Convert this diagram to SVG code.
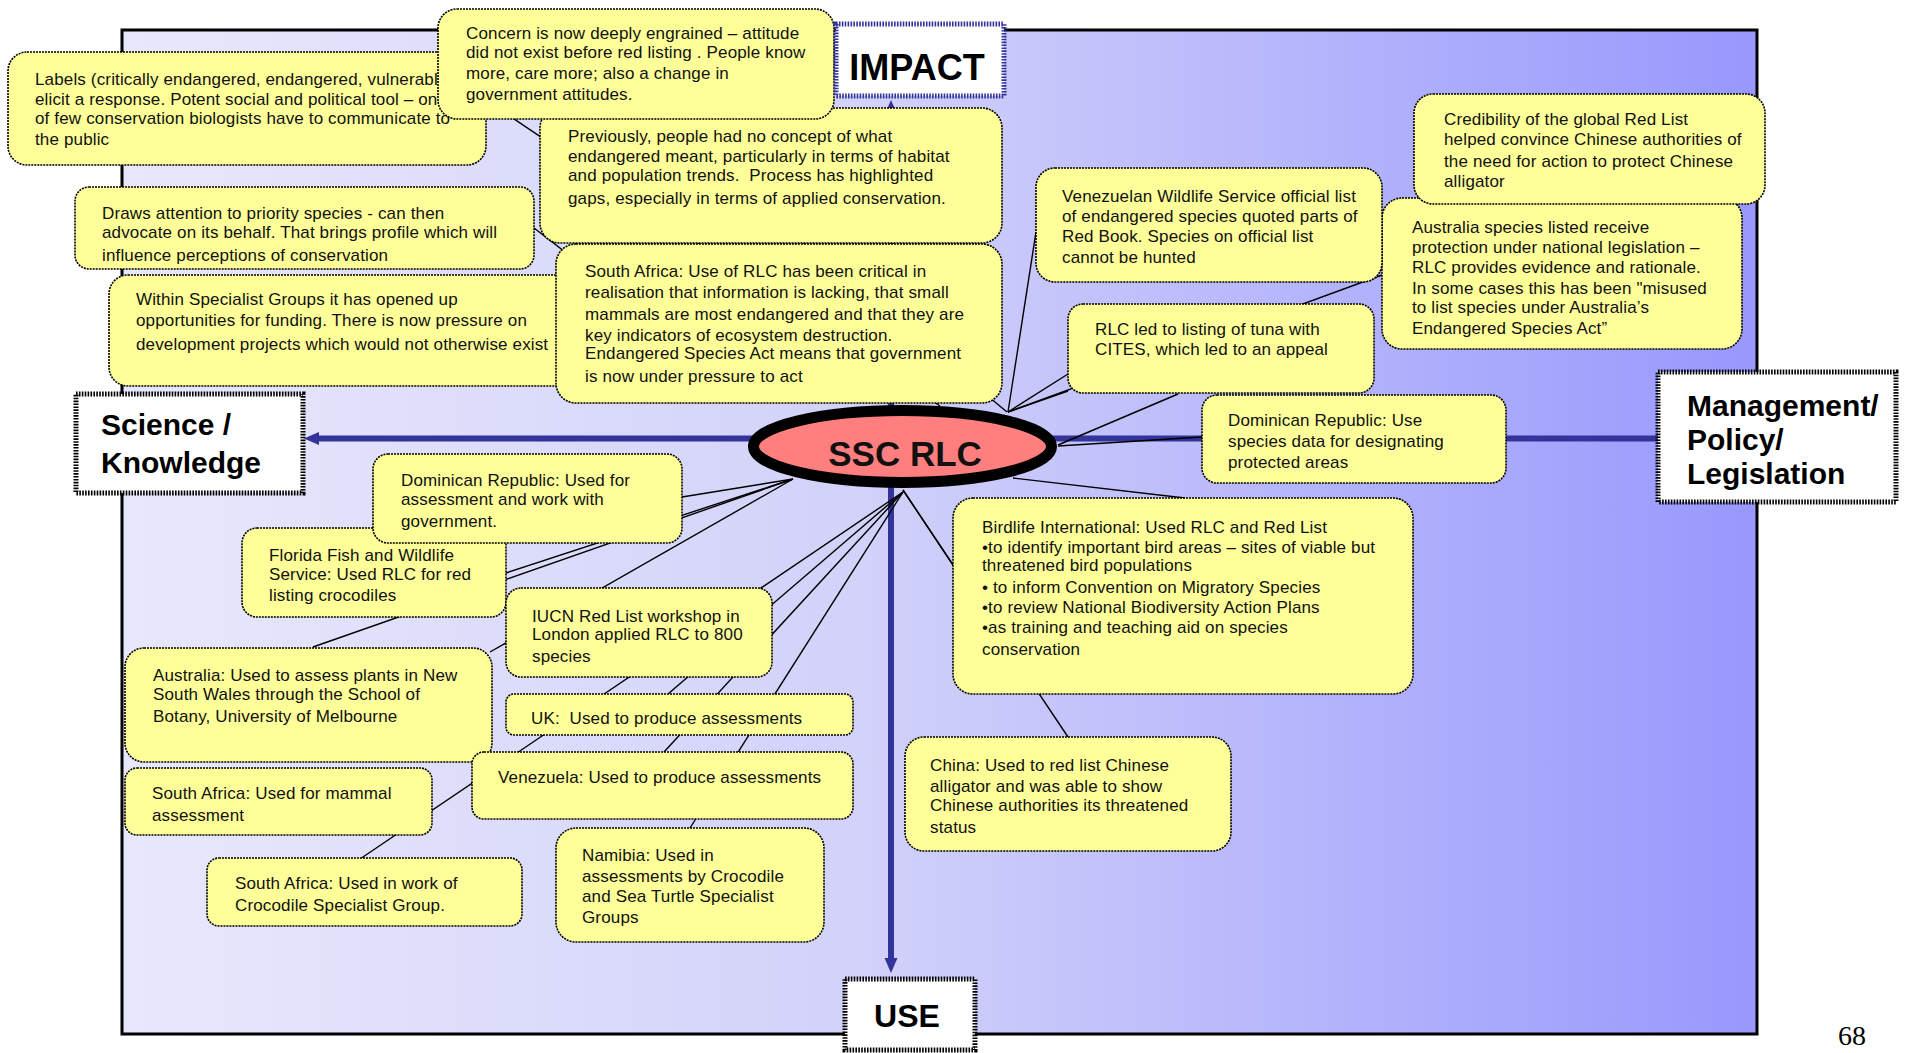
<svg xmlns="http://www.w3.org/2000/svg" width="1907" height="1053" viewBox="0 0 1907 1053">
<style>
.node rect{fill:#ffff99;stroke:#000;stroke-width:1.6;stroke-dasharray:2 1}
.node text{font-family:"Liberation Sans",Arial,sans-serif;font-size:17px;fill:#111;letter-spacing:0.15px}
.lbl rect{fill:#fff;stroke:#000;stroke-width:5;stroke-dasharray:1.6 1.3}
.lbl text{font-family:"Liberation Sans",Arial,sans-serif;font-weight:bold;fill:#000}
#connectors line{stroke:#000;stroke-width:1.4}
.axis{stroke:#333399;stroke-width:6;fill:none}
</style>
<defs>
<linearGradient id="bg" x1="0" y1="0" x2="1" y2="0">
<stop offset="0" stop-color="#e8e8fc"/>
<stop offset="0.45" stop-color="#d2d2fa"/>
<stop offset="1" stop-color="#9898fd"/>
</linearGradient>
<marker id="ah" markerUnits="userSpaceOnUse" markerWidth="16" markerHeight="16" viewBox="0 0 16 16" refX="7" refY="8" orient="auto-start-reverse">
<path d="M0,1.5 L15,8 L0,14.5 z" fill="#333399"/>
</marker>
<clipPath id="clipDraws"><rect x="75" y="187" width="459" height="82"/></clipPath>
</defs>

<rect x="122" y="30" width="1635" height="1004" fill="url(#bg)" stroke="#000" stroke-width="3"/>

<g id="axes">
<path class="axis" d="M312,438.5 H1658" marker-start="url(#ah)"/>
<path class="axis" d="M891,108 V965" marker-start="url(#ah)" marker-end="url(#ah)"/>
</g>

<g id="connectors">
<line x1="1008" y1="412" x2="1036" y2="232"/>
<line x1="1008" y1="412" x2="1068" y2="374"/>
<line x1="1008" y1="412" x2="1068" y2="391"/>
<line x1="1058" y1="445" x2="1178" y2="394"/>
<line x1="1058" y1="446" x2="1202" y2="437"/>
<line x1="1008" y1="412" x2="1382" y2="275"/>
<line x1="1013" y1="478" x2="1185" y2="498"/>
<line x1="903" y1="490" x2="953" y2="565"/>
<line x1="903" y1="490" x2="1068" y2="737"/>
<line x1="1007" y1="412" x2="800" y2="240"/>
<line x1="940" y1="406" x2="486" y2="100"/>
<line x1="700" y1="356" x2="534" y2="228"/>
<line x1="793" y1="479" x2="682" y2="497"/>
<line x1="793" y1="479" x2="506" y2="573"/>
<line x1="793" y1="479" x2="313" y2="647"/>
<line x1="793" y1="479" x2="490" y2="652"/>
<line x1="903" y1="492" x2="360" y2="859"/>
<line x1="903" y1="492" x2="668" y2="694"/>
<line x1="903" y1="492" x2="664" y2="752"/>
<line x1="903" y1="492" x2="690" y2="828"/>
</g>

<g id="n-ssc">
<ellipse cx="902.5" cy="446.5" rx="149" ry="36" fill="#ff7f7f" stroke="#000" stroke-width="11"/>
<text x="905" y="466" text-anchor="middle" font-family="Liberation Sans, Arial, sans-serif" font-weight="bold" font-size="35" fill="#111">SSC RLC</text>
</g>

<g id="n-labels" class="node"><rect x="8" y="52" width="478" height="113" rx="19"/>
<text><tspan x="35" y="85">Labels (critically endangered, endangered, vulnerable)</tspan><tspan x="35" y="105">elicit a response. Potent social and political tool – one</tspan><tspan x="35" y="124">of few conservation biologists have to communicate to</tspan><tspan x="35" y="145">the public</tspan></text></g>

<g id="n-previously" class="node"><rect x="540" y="108" width="462" height="135" rx="20"/>
<text><tspan x="568" y="142">Previously, people had no concept of what</tspan><tspan x="568" y="162">endangered meant, particularly in terms of habitat</tspan><tspan x="568" y="181" xml:space="preserve">and population trends.  Process has highlighted</tspan><tspan x="568" y="204">gaps, especially in terms of applied conservation.</tspan></text></g>

<g id="n-concern" class="node"><rect x="438" y="9" width="396" height="110" rx="19"/>
<text><tspan x="466" y="39">Concern is now deeply engrained – attitude</tspan><tspan x="466" y="58">did not exist before red listing . People know</tspan><tspan x="466" y="79">more, care more; also a change in</tspan><tspan x="466" y="100">government attitudes.</tspan></text></g>

<g id="n-draws" class="node"><rect x="75" y="187" width="459" height="82" rx="14"/>
<text clip-path="url(#clipDraws)"><tspan x="102" y="219">Draws attention to priority species - can then</tspan><tspan x="102" y="238">advocate on its behalf. That brings profile which will</tspan><tspan x="102" y="261">influence perceptions of conservation</tspan></text></g>

<g id="n-within" class="node"><rect x="109" y="275" width="491" height="111" rx="19"/>
<text><tspan x="136" y="305">Within Specialist Groups it has opened up</tspan><tspan x="136" y="326">opportunities for funding. There is now pressure on</tspan><tspan x="136" y="350">development projects which would not otherwise exist</tspan></text></g>

<g id="n-southafrica" class="node"><rect x="556" y="244" width="446" height="159" rx="20"/>
<text><tspan x="585" y="277">South Africa: Use of RLC has been critical in</tspan><tspan x="585" y="298">realisation that information is lacking, that small</tspan><tspan x="585" y="320">mammals are most endangered and that they are</tspan><tspan x="585" y="341">key indicators of ecosystem destruction.</tspan><tspan x="585" y="359">Endangered Species Act means that government</tspan><tspan x="585" y="382">is now under pressure to act</tspan></text></g>

<g id="n-australia-species" class="node"><rect x="1382" y="198" width="360" height="151" rx="20"/>
<text><tspan x="1412" y="233">Australia species listed receive</tspan><tspan x="1412" y="253">protection under national legislation –</tspan><tspan x="1412" y="273">RLC provides evidence and rationale.</tspan><tspan x="1412" y="294">In some cases this has been "misused</tspan><tspan x="1412" y="313">to list species under Australia’s</tspan><tspan x="1412" y="334">Endangered Species Act”</tspan></text></g>

<g id="n-credibility" class="node"><rect x="1414" y="94" width="351" height="110" rx="19"/>
<text><tspan x="1444" y="125">Credibility of the global Red List</tspan><tspan x="1444" y="145">helped convince Chinese authorities of</tspan><tspan x="1444" y="167">the need for action to protect Chinese</tspan><tspan x="1444" y="187">alligator</tspan></text></g>

<g id="n-venezuelan-wildlife" class="node"><rect x="1036" y="168" width="346" height="114" rx="19"/>
<text><tspan x="1062" y="202">Venezuelan Wildlife Service official list</tspan><tspan x="1062" y="222">of endangered species quoted parts of</tspan><tspan x="1062" y="242">Red Book. Species on official list</tspan><tspan x="1062" y="263">cannot be hunted</tspan></text></g>

<g id="n-tuna" class="node"><rect x="1068" y="304" width="306" height="89" rx="15"/>
<text><tspan x="1095" y="335">RLC led to listing of tuna with</tspan><tspan x="1095" y="355">CITES, which led to an appeal</tspan></text></g>

<g id="n-dr-use" class="node"><rect x="1202" y="395" width="304" height="88" rx="15"/>
<text><tspan x="1228" y="426">Dominican Republic: Use</tspan><tspan x="1228" y="447">species data for designating</tspan><tspan x="1228" y="468">protected areas</tspan></text></g>

<g id="n-birdlife" class="node"><rect x="953" y="498" width="460" height="196" rx="20"/>
<text><tspan x="982" y="533">Birdlife International: Used RLC and Red List</tspan><tspan x="982" y="553">•to identify important bird areas – sites of viable but</tspan><tspan x="982" y="571">threatened bird populations</tspan><tspan x="982" y="593">• to inform Convention on Migratory Species</tspan><tspan x="982" y="613">•to review National Biodiversity Action Plans</tspan><tspan x="982" y="633">•as training and teaching aid on species</tspan><tspan x="982" y="655">conservation</tspan></text></g>

<g id="n-china" class="node"><rect x="905" y="737" width="326" height="114" rx="19"/>
<text><tspan x="930" y="771">China: Used to red list Chinese</tspan><tspan x="930" y="792">alligator and was able to show</tspan><tspan x="930" y="811">Chinese authorities its threatened</tspan><tspan x="930" y="833">status</tspan></text></g>

<g id="n-florida" class="node"><rect x="242" y="528" width="264" height="89" rx="15"/>
<text><tspan x="269" y="561">Florida Fish and Wildlife</tspan><tspan x="269" y="580">Service: Used RLC for red</tspan><tspan x="269" y="601">listing crocodiles</tspan></text></g>

<g id="n-dr-assessment" class="node"><rect x="373" y="454" width="309" height="89" rx="15"/>
<text><tspan x="401" y="486">Dominican Republic: Used for</tspan><tspan x="401" y="505">assessment and work with</tspan><tspan x="401" y="527">government.</tspan></text></g>

<g id="n-iucn" class="node"><rect x="506" y="588" width="266" height="89" rx="15"/>
<text><tspan x="532" y="622">IUCN Red List workshop in</tspan><tspan x="532" y="640">London applied RLC to 800</tspan><tspan x="532" y="662">species</tspan></text></g>

<g id="n-australia-plants" class="node"><rect x="125" y="648" width="367" height="114" rx="19"/>
<text><tspan x="153" y="681">Australia: Used to assess plants in New</tspan><tspan x="153" y="700">South Wales through the School of</tspan><tspan x="153" y="722">Botany, University of Melbourne</tspan></text></g>

<g id="n-uk" class="node"><rect x="506" y="694" width="347" height="41" rx="8"/>
<text><tspan x="531" y="724" xml:space="preserve">UK:  Used to produce assessments</tspan></text></g>

<g id="n-sa-mammal" class="node"><rect x="125" y="768" width="307" height="67" rx="12"/>
<text><tspan x="152" y="799">South Africa: Used for mammal</tspan><tspan x="152" y="821">assessment</tspan></text></g>

<g id="n-venezuela" class="node"><rect x="472" y="752" width="381" height="67" rx="12"/>
<text><tspan x="498" y="783">Venezuela: Used to produce assessments</tspan></text></g>

<g id="n-sa-croc" class="node"><rect x="207" y="858" width="315" height="68" rx="12"/>
<text><tspan x="235" y="889">South Africa: Used in work of</tspan><tspan x="235" y="911">Crocodile Specialist Group.</tspan></text></g>

<g id="n-namibia" class="node"><rect x="556" y="828" width="268" height="114" rx="20"/>
<text><tspan x="582" y="861">Namibia: Used in</tspan><tspan x="582" y="882">assessments by Crocodile</tspan><tspan x="582" y="902">and Sea Turtle Specialist</tspan><tspan x="582" y="923">Groups</tspan></text></g>

<g id="l-impact" class="lbl"><rect x="836" y="24" width="168" height="72" style="stroke:#333399"/>
<text x="917" y="80" text-anchor="middle" font-size="36">IMPACT</text></g>

<g id="l-science" class="lbl"><rect x="76" y="394" width="227" height="99"/>
<text font-size="30"><tspan x="101" y="435">Science /</tspan><tspan x="101" y="473">Knowledge</tspan></text></g>

<g id="l-management" class="lbl"><rect x="1658" y="372" width="238" height="130"/>
<text font-size="30"><tspan x="1687" y="416">Management/</tspan><tspan x="1687" y="450">Policy/</tspan><tspan x="1687" y="484">Legislation</tspan></text></g>

<g id="l-use" class="lbl"><rect x="845" y="979" width="130" height="71"/>
<text x="907" y="1027" text-anchor="middle" font-size="32">USE</text></g>

<text x="1838" y="1045" font-family="Liberation Serif, Times New Roman, serif" font-size="28" fill="#000">68</text>
</svg>
